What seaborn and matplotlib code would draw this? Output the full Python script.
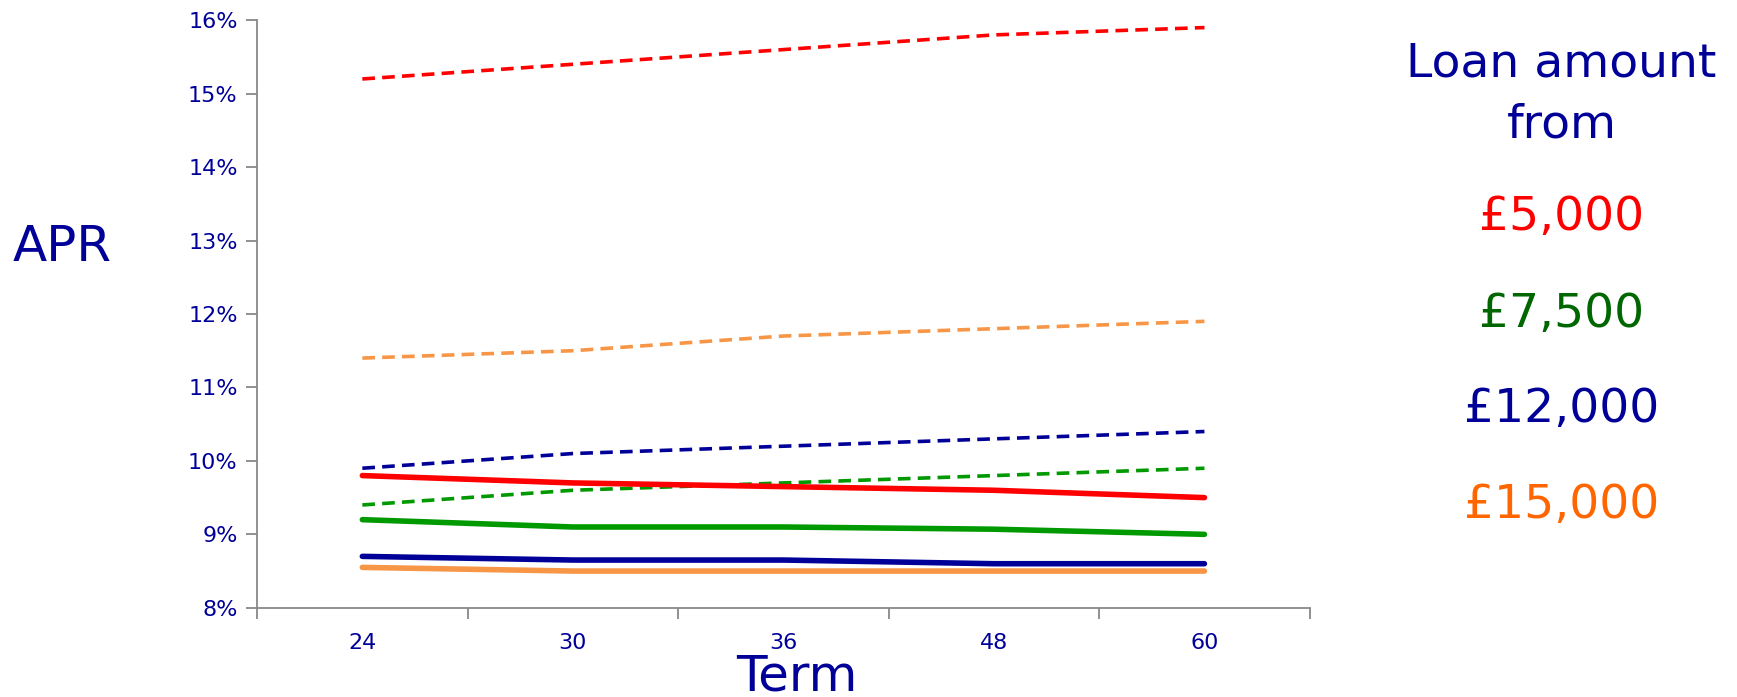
import numpy as np
import pandas as pd
import matplotlib
matplotlib.use("Agg")
import matplotlib.pyplot as plt
import seaborn as sns
from matplotlib.ticker import FixedLocator, FuncFormatter

# -------------------------------
# Data (APR %)
# -------------------------------
terms = [24, 30, 36, 48, 60]
amounts = ["£5,000", "£7,500", "£12,000", "£15,000"]

# dashed lines (upper rates)
apr_5000_high = [15.2, 15.4, 15.6, 15.8, 15.9]
apr_7500_high = [9.4, 9.6, 9.7, 9.8, 9.9]
apr_12000_high = [9.9, 10.1, 10.2, 10.3, 10.4]
apr_15000_high = [11.4, 11.5, 11.7, 11.8, 11.9]

# solid lines (lower rates)
apr_5000_low = [9.8, 9.7, 9.65, 9.6, 9.5]
apr_7500_low = [9.2, 9.1, 9.1, 9.07, 9.0]
apr_12000_low = [8.7, 8.65, 8.65, 8.6, 8.6]
apr_15000_low = [8.55, 8.5, 8.5, 8.5, 8.5]

line_colors = ["#FF0000", "#009900", "#000099", "#F79646"]
text_colors = ["#FF0000", "#006600", "#000099", "#FF6600"]
navy = "#000099"

highs = [apr_5000_high, apr_7500_high, apr_12000_high, apr_15000_high]
lows = [apr_5000_low, apr_7500_low, apr_12000_low, apr_15000_low]

# long-form table for seaborn
rows = []
for amt, hi, lo in zip(amounts, highs, lows):
    for i, t in enumerate(terms):
        rows.append({"pos": i, "term": t, "amount": amt, "kind": "high", "apr": hi[i]})
        rows.append({"pos": i, "term": t, "amount": amt, "kind": "low", "apr": lo[i]})
df = pd.DataFrame(rows)

sns.set_style("white")
plt.rcParams["font.family"] = ["DejaVu Sans"]

fig = plt.figure(figsize=(17.37, 6.97), dpi=100)
ax = fig.add_axes([0.148, 0.128, 0.606, 0.843])

# draw dashed first, then solid on top
for amt, col in zip(amounts, line_colors):
    sub = df[(df["amount"] == amt) & (df["kind"] == "high")]
    sns.lineplot(data=sub, x="pos", y="apr", color=col, lw=2.6, ax=ax,
                 legend=False).lines[-1].set_dashes((3.5, 2))
for amt, col in zip(amounts, line_colors):
    sub = df[(df["amount"] == amt) & (df["kind"] == "low")]
    sns.lineplot(data=sub, x="pos", y="apr", color=col, lw=4.0, ax=ax, legend=False)

ax.set_xlim(-0.5, len(terms) - 0.5)
ax.set_ylim(8, 16)
ax.set_yticks(range(8, 17))
ax.yaxis.set_major_formatter(FuncFormatter(lambda v, p: f"{v:.0f}%"))
ax.set_xticks(range(len(terms)))
ax.set_xticklabels([str(t) for t in terms])
ax.xaxis.set_minor_locator(FixedLocator(np.arange(-0.5, len(terms), 1.0)))

for s in ["top", "right"]:
    ax.spines[s].set_visible(False)
for s in ["left", "bottom"]:
    ax.spines[s].set_color("#888888")
    ax.spines[s].set_linewidth(1.3)

ax.tick_params(axis="y", which="major", direction="out", length=8, width=1.3,
               color="#888888", labelcolor=navy, labelsize=16, pad=6, left=True)
ax.tick_params(axis="x", which="major", length=0, labelcolor=navy, labelsize=16, pad=18)
ax.tick_params(axis="x", which="minor", direction="out", length=8, width=1.3,
               color="#888888", bottom=True)

ax.set_xlabel("")
ax.set_ylabel("")
fig.text(0.036, 0.645, "APR", color=navy, fontsize=36, ha="center", va="center")
fig.text(0.459, 0.03, "Term", color=navy, fontsize=36, ha="center", va="center")

# legend as coloured text on the right
fig.text(0.899, 0.908, "Loan amount", color=navy, fontsize=34, ha="center", va="center")
fig.text(0.899, 0.82, "from", color=navy, fontsize=34, ha="center", va="center")
legend_y = [0.688, 0.549, 0.412, 0.275]
for amt, col, yy in zip(amounts, text_colors, legend_y):
    fig.text(0.899, yy, amt, color=col, fontsize=34, ha="center", va="center")

fig.savefig("out.png", dpi=100)
